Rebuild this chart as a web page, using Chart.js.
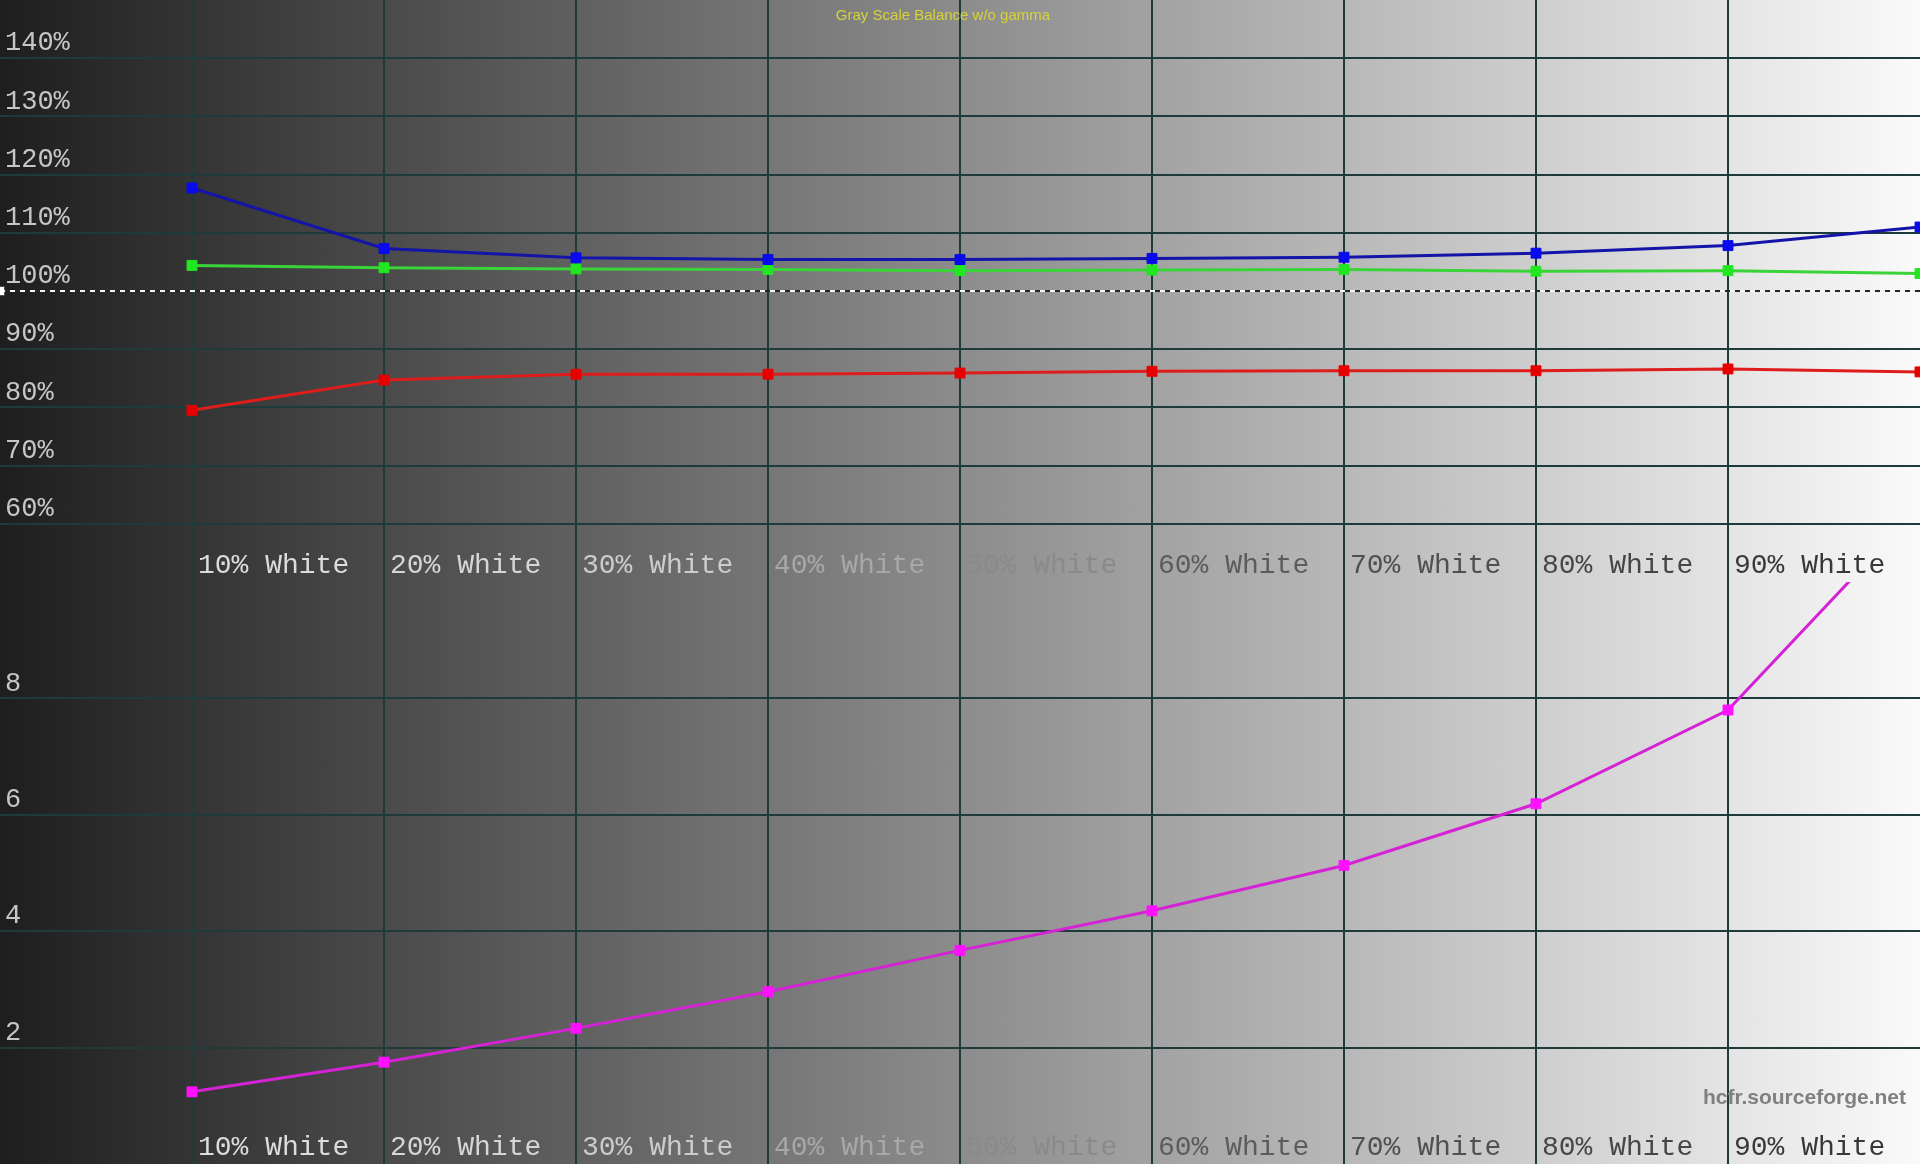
<!DOCTYPE html>
<html lang="en">
<head>
    <meta charset="UTF-8">
    <title>Gray Scale Balance w/o gamma</title>
    <script src="https://cdn.jsdelivr.net/npm/chart.js"></script>
    <style>
        body { margin: 0; overflow: hidden; }
        #wrap {
            position: relative; width: 1920px; height: 1164px;
            background: linear-gradient(to right, #1e1e1e 0%, #8c8c8c 50%, #fafafa 100%);
        }
        .panel { position: relative; width: 1920px; height: 582px; }
        #title {
            position: absolute; left: 0; width: 1886px; top: 6px; text-align: center;
            font: 15px "Liberation Sans", Arial, sans-serif; color: #d6d23c;
        }
        #credit {
            position: absolute; right: 14px; top: 1085px;
            font: bold 21px "Liberation Sans", Arial, sans-serif; color: #808080;
        }
    </style>
</head>
<body>
<div id="wrap">
    <div class="panel"><canvas id="balanceChart"></canvas></div>
    <div class="panel"><canvas id="deltaChart"></canvas></div>
    <div id="title">Gray Scale Balance w/o gamma</div>
    <div id="credit">hcfr.sourceforge.net</div>
</div>

<script>
    // measured levels (IRE %) and labels
    const levels = [10, 20, 30, 40, 50, 60, 70, 80, 90, 100];
    const tickLabels = ['10% White', '20% White', '30% White', '40% White', '50% White',
                        '60% White', '70% White', '80% White', '90% White'];
    const labelColors = ['#dcdcdc', '#d6d6d6', '#cccccc', '#a8a8a8', '#8a8a8a',
                         '#5c5c5c', '#505050', '#464646', '#383838'];

    // RGB balance, percent of target
    const redPct   = [79.5, 84.7, 85.7, 85.7, 85.9, 86.2, 86.3, 86.3, 86.6, 86.1];
    const greenPct = [104.4, 104.0, 103.8, 103.7, 103.5, 103.6, 103.7, 103.4, 103.5, 103.0];
    const bluePct  = [117.7, 107.3, 105.7, 105.4, 105.4, 105.6, 105.8, 106.5, 107.8, 111.0];

    // delta E per level
    const deltaE = [1.24, 1.75, 2.33, 2.96, 3.67, 4.35, 5.13, 6.19, 7.80, 11.3];

    // 100% reference line
    const refX = [0, 100];
    const refY = [100, 100];

    const topTicks = [60, 70, 80, 90, 100, 110, 120, 130, 140];
    const bottomTicks = [2, 4, 6, 8];

    const gridColor = '#1d3b3b';
    const monoFont = 'Liberation Mono';

    function pts(xs, ys) {
        return xs.map((x, i) => ({ x: x, y: ys[i] }));
    }

    function series(label, values, lineColor, pointColor, order) {
        return {
            label: label,
            order: order,
            data: pts(levels, values),
            borderColor: lineColor,
            backgroundColor: pointColor,
            borderWidth: 3,
            pointStyle: 'rect',
            pointRadius: 7,
            pointBorderWidth: 1,
            pointBorderColor: pointColor,
            tension: 0
        };
    }

    // "NN% White" labels sit inside the plot, just above the panel's bottom edge
    const levelLabels = {
        id: 'levelLabels',
        beforeDatasetsDraw(chart) {
            const xs = chart.scales.x;
            const ctx = chart.ctx;
            const y = chart.chartArea.bottom - 16;
            ctx.save();
            ctx.font = '28px "' + monoFont + '"';
            ctx.textAlign = 'left';
            ctx.textBaseline = 'middle';
            tickLabels.forEach((t, i) => {
                ctx.fillStyle = labelColors[i];
                ctx.fillText(t, xs.getPixelForValue(levels[i]) + 6, y);
            });
            ctx.restore();
        }
    };

    // kill the half-label padding the scales ask for, so the plot fills the panel
    function noPad(s) {
        s.paddingTop = 0; s.paddingBottom = 0;
        s.paddingLeft = 0; s.paddingRight = 0;
    }

    function xScale() {
        return {
            type: 'linear', min: 0, max: 100,
            afterBuildTicks: s => { s.ticks = levels.slice(0, 9).map(v => ({ value: v })); },
            afterFit: s => { s.height = 0; noPad(s); },
            grid: { color: gridColor, lineWidth: 2, drawTicks: false },
            border: { display: false },
            ticks: { display: false }
        };
    }

    function yScale(min, max, tickVals, fmt, hide) {
        return {
            type: 'linear', position: 'left', min: min, max: max,
            afterBuildTicks: s => { s.ticks = tickVals.map(v => ({ value: v })); },
            afterFit: s => { s.width = 0; noPad(s); },
            grid: {
                color: c => (c.tick && c.tick.value === hide) ? 'rgba(0,0,0,0)' : gridColor,
                lineWidth: 2, drawTicks: false
            },
            border: { display: false },
            ticks: {
                mirror: true, padding: 5, labelOffset: -15,
                font: { family: monoFont, size: 27 },
                color: '#c6c6c6',
                callback: fmt
            }
        };
    }

    const baseOptions = {
        responsive: true,
        maintainAspectRatio: false,
        animation: false,
        layout: { padding: 0, autoPadding: false },
        plugins: { legend: { display: false }, tooltip: { enabled: false } }
    };

    new Chart(document.getElementById('balanceChart'), {
        type: 'line',
        data: {
            datasets: [
                {
                    label: 'Reference dark',
                    order: 6,
                    data: pts(refX, refY),
                    borderColor: '#262626',
                    borderWidth: 2,
                    pointRadius: 0
                },
                {
                    label: 'Reference',
                    order: 5,
                    data: pts(refX, refY),
                    borderColor: '#f4f4f4',
                    borderWidth: 2,
                    borderDash: [5, 5],
                    pointStyle: 'rect',
                    pointRadius: [6, 0],
                    backgroundColor: '#ffffff',
                    pointBorderWidth: 0
                },
                series('Red', redPct, '#dd1c1c', '#e80000', 3),
                series('Green', greenPct, '#3ad43a', '#22e622', 2),
                series('Blue', bluePct, '#1414a8', '#0a0aee', 1)
            ]
        },
        options: Object.assign({}, baseOptions, {
            scales: {
                x: xScale(),
                y: yScale(50, 150, topTicks, v => v + '%', 100)
            }
        }),
        plugins: [levelLabels]
    });

    new Chart(document.getElementById('deltaChart'), {
        type: 'line',
        data: {
            datasets: [series('Delta E', deltaE, '#d522d5', '#ff10ff', 1)]
        },
        options: Object.assign({}, baseOptions, {
            scales: {
                x: xScale(),
                y: yScale(0, 10, bottomTicks, v => String(v), null)
            }
        }),
        plugins: [levelLabels]
    });
</script>
</body>
</html>
